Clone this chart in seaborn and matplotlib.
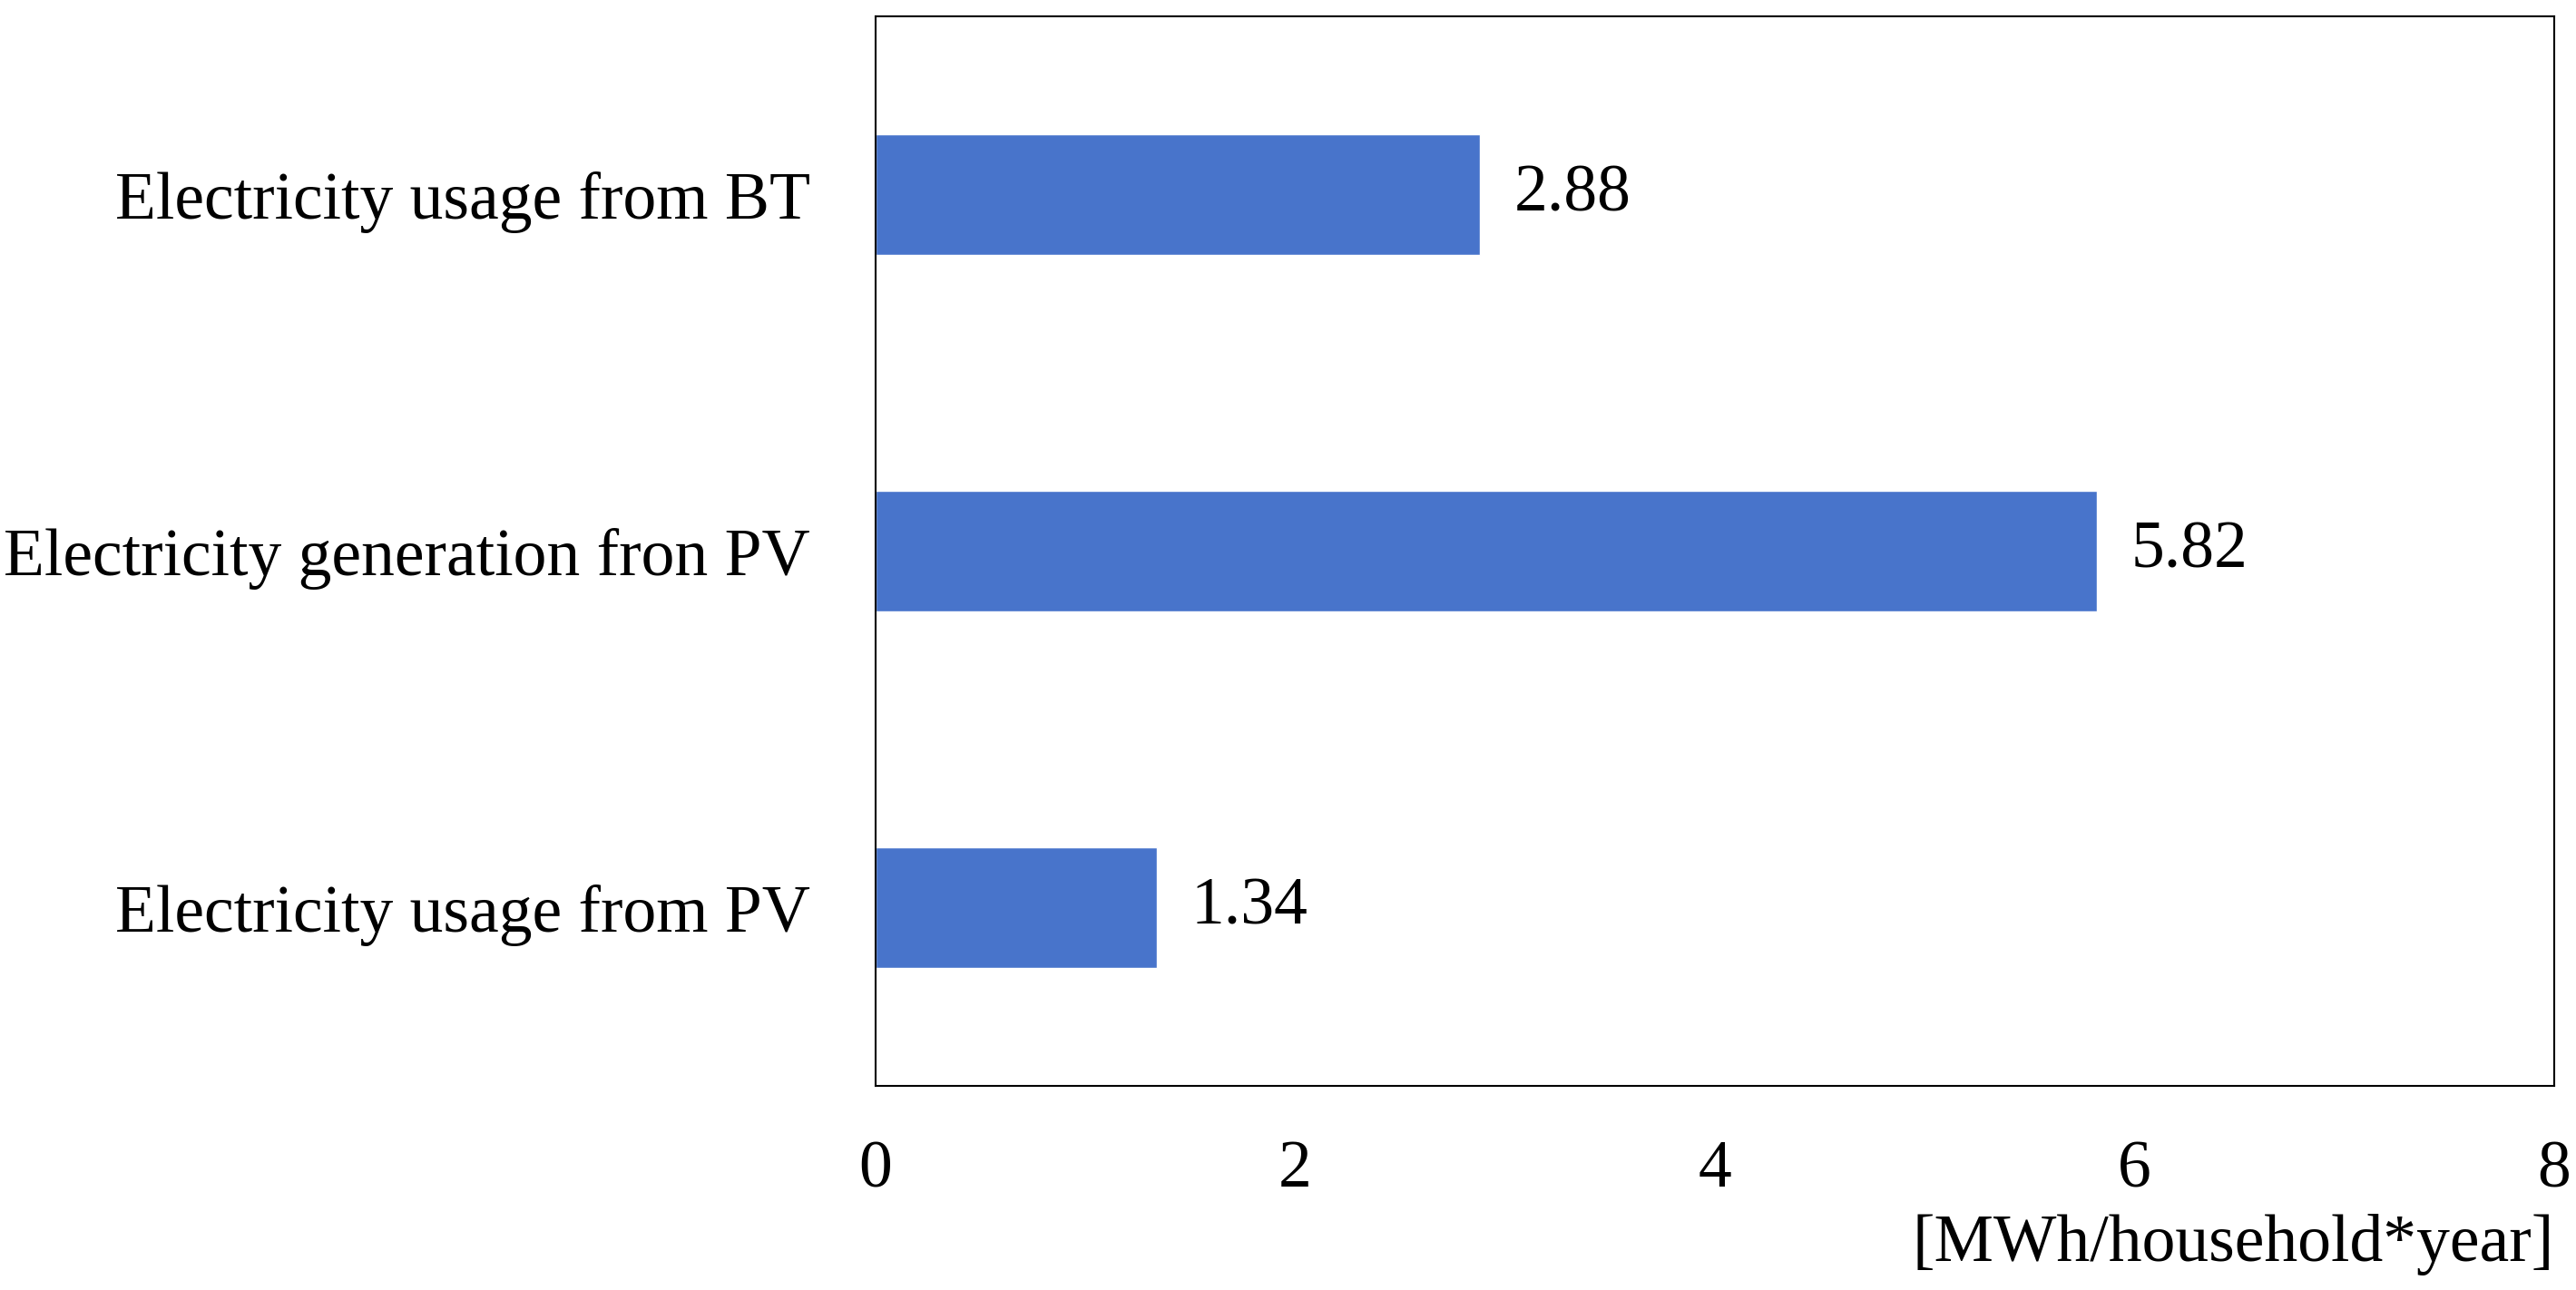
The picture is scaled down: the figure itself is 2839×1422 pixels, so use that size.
import numpy as np
import pandas as pd
import matplotlib
matplotlib.use('Agg')
import matplotlib.pyplot as plt
import seaborn as sns

# chart data
categories = ['Electricity usage from BT', 'Electricity generation fron PV', 'Electricity usage from PV']
values = [2.88, 5.82, 1.34]
xticks = [0, 2, 4, 6, 8]
unit_label = '[MWh/household*year]'

df = pd.DataFrame({'category': categories, 'value': values})

sns.set_style('white')
plt.rcParams['font.family'] = ['Liberation Serif', 'DejaVu Serif']
plt.rcParams['text.color'] = 'black'
plt.rcParams['xtick.color'] = 'black'
plt.rcParams['ytick.color'] = 'black'

fig = plt.figure(figsize=(28.39, 14.22), dpi=100)
ax = fig.add_axes([0.3399, 0.1582, 0.9915 - 0.3399, 0.9873 - 0.1582])

sns.barplot(data=df, x='value', y='category', order=categories, color='#4874CB',
            saturation=1, width=0.34, ax=ax)

ax.bar_label(ax.containers[0], labels=[f'{v:.2f}' for v in values],
             padding=27, fontsize=53, color='black')

ax.set_xlim(0, 8)
ax.set_xticks(xticks)
ax.set_xticklabels([str(t) for t in xticks])
ax.set_ylabel('')
ax.set_xlabel('')
ax.tick_params(axis='x', length=0, pad=43, labelsize=53, labelcolor='black')
ax.tick_params(axis='y', length=0, pad=52, labelsize=53, labelcolor='black')

for s in ax.spines.values():
    s.set_visible(True)
    s.set_color('black')
    s.set_linewidth(1.5)

fig.text(0.9915, 0.035, unit_label, ha='right', va='center', fontsize=53, color='black')

fig.savefig('out.png', dpi=100, facecolor='white')
